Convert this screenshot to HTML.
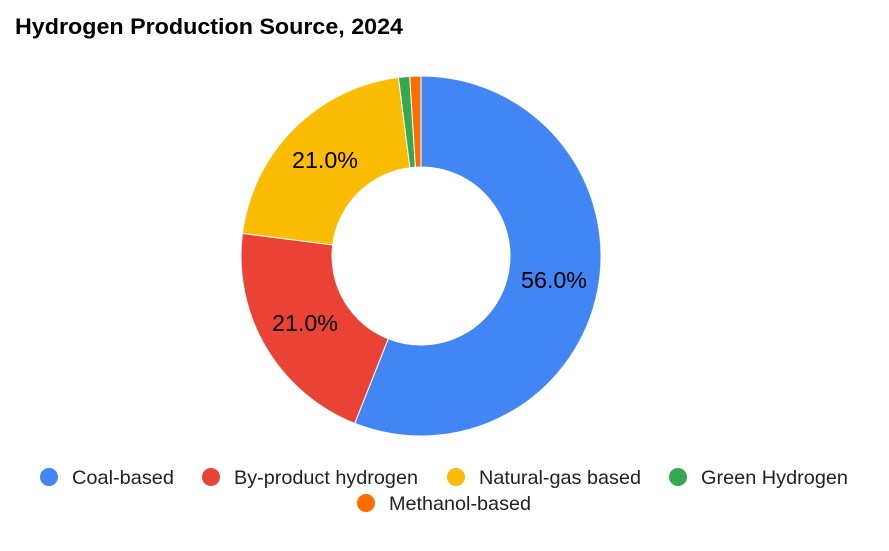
<!DOCTYPE html>
<html><head><meta charset="utf-8"><style>
body{margin:0;background:#fff;width:889px;height:546px;overflow:hidden;font-family:"Liberation Sans",Arial,sans-serif;}
</style></head><body>
<svg width="889" height="546" xmlns="http://www.w3.org/2000/svg" font-family="Liberation Sans, Arial, sans-serif">
<text x="15" y="34" font-size="22" font-weight="bold" fill="#000" textLength="388" lengthAdjust="spacingAndGlyphs">Hydrogen Production Source, 2024</text>
<g id="pie"></g>
<g font-size="23" fill="#000">
<text x="521" y="288" textLength="66" lengthAdjust="spacingAndGlyphs">56.0%</text>
<text x="272" y="331" textLength="66" lengthAdjust="spacingAndGlyphs">21.0%</text>
<text x="292" y="168" textLength="66" lengthAdjust="spacingAndGlyphs">21.0%</text>
</g>
<g font-size="19.5" fill="#222">
<circle cx="49" cy="477" r="9" fill="#4285f4"/><text x="72" y="484" textLength="102" lengthAdjust="spacingAndGlyphs">Coal-based</text>
<circle cx="211" cy="477" r="9" fill="#ea4335"/><text x="234" y="484" textLength="184" lengthAdjust="spacingAndGlyphs">By-product hydrogen</text>
<circle cx="456" cy="477" r="9" fill="#fbbc04"/><text x="479" y="484" textLength="162" lengthAdjust="spacingAndGlyphs">Natural-gas based</text>
<circle cx="678" cy="477" r="9" fill="#34a853"/><text x="701" y="484" textLength="147" lengthAdjust="spacingAndGlyphs">Green Hydrogen</text>
<circle cx="366" cy="503" r="9" fill="#ff6d01"/><text x="389" y="510" textLength="142" lengthAdjust="spacingAndGlyphs">Methanol-based</text>
</g>
</svg>
<script>
var cx=421,cy=256,R=180,r=89;
var v=[[0.56,"#4285f4"],[0.21,"#ea4335"],[0.21,"#fbbc04"],[0.01,"#34a853"],[0.01,"#ff6d01"]];
var g=document.getElementById("pie"),a=0,s="";
function p(t,rr){return (cx+rr*Math.sin(t)).toFixed(2)+" "+(cy-rr*Math.cos(t)).toFixed(2);}
v.forEach(function(d){var b=a+d[0]*2*Math.PI,l=d[0]>0.5?1:0;
s+='<path d="M'+p(a,R)+' A'+R+' '+R+' 0 '+l+' 1 '+p(b,R)+' L'+p(b,r)+' A'+r+' '+r+' 0 '+l+' 0 '+p(a,r)+' Z" fill="'+d[1]+'" stroke="#fff" stroke-width="1"/>';a=b;});
g.innerHTML=s;
</script>
</body></html>
